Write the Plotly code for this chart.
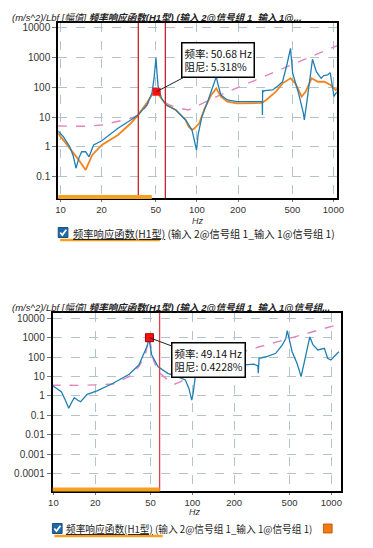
import math
import plotly.graph_objects as go

W, H = 373, 548

# ---------------- data: top chart ----------------
top_blue_f = [9.6, 10.5, 11.7, 12.4, 13.0, 13.6, 14.3, 15.3, 16.2, 17.5, 20.1, 23, 26.4, 32.8, 37, 43,
              46.8, 48.5, 49.5, 50.1, 51, 52, 55, 59.8, 70, 82.6, 92, 96, 99.3, 102, 108.5, 121, 131,
              138.6, 143, 150, 167, 197, 259, 301, 302, 303, 305, 313, 359, 390, 424, 459, 485, 503,
              556, 603, 612, 637, 673, 703, 750, 813, 850, 906, 948, 985, 1010, 1040, 1067]
top_blue_v = [3.4, 2.2, 1.0, 0.5, 0.19, 0.4, 0.68, 0.68, 0.46, 1.15, 1.6, 2.6, 4.2, 8, 11.7, 25.5,
              63, 200, 450, 1000, 300, 105, 43, 25.5, 17.4, 8, 3.7, 1.6, 0.78, 2.5, 10, 37.7, 120,
              229, 120, 55, 37.7, 33, 33, 33, 11.7, 82, 70, 78, 82, 110, 155, 650, 2075, 299,
              63, 13.4, 8, 29, 178, 884, 340, 202, 250, 262, 313, 82, 50, 63, 70]

top_orange_f = [9.6, 11.7, 13.4, 15.3, 17.1, 20.1, 26.4, 32.8, 37, 43, 48, 50.6, 53.5, 59.8, 70,
                82.6, 87, 92, 96, 104, 114, 127, 138.6, 150, 167, 197, 300, 322, 379, 424, 485,
                526, 586, 627, 692, 771, 859, 955, 1040, 1067]
top_orange_v = [2.85, 0.9, 0.4, 0.166, 0.53, 1.15, 2.5, 6.2, 11.7, 30.5, 66, 82, 49, 25.5, 17.4,
                8, 4.75, 3.7, 4.2, 6.2, 19.8, 55, 93, 49, 33, 29, 30, 37.7, 72, 137, 202,
                137, 49, 72, 202, 155, 155, 120, 82, 90]

top_fit_f = [9.6, 12, 15.3, 20.1, 26.4, 32.8, 37, 40, 43, 46.8, 49, 50.68, 52, 55, 58, 63, 74.3,
             87, 104, 121, 150, 197, 260, 340, 450, 586, 750, 955, 1067]
top_fit_v = [5.0, 4.9, 4.9, 5.4, 7, 9.1, 11.7, 16, 25, 50, 68, 72, 62, 43, 32, 25.5, 19.8,
             17.4, 26, 37.5, 57, 96, 166, 278, 479, 800, 1291, 2065, 2560]

top_marker_f = [50.68]
top_marker_v = [72]
top_cursor_f = [37.2, 58.7]
top_band_end = 46.7
top_label = "频率: 50.68 Hz<br>阻尼: 5.318%"

# ---------------- data: bottom chart ----------------
bot_blue_f = [9.7, 11.4, 12.2, 12.9, 13.6, 14.15, 15.0, 15.7, 17.5, 20.6, 26.9, 35.1, 41.2, 45.8,
              47.5, 48.6, 49.5, 51, 56.7, 66.6, 78, 89, 94.3, 97, 99, 101, 105, 117, 130, 160, 200,
              240, 276, 293, 296, 298, 302, 340, 398, 444, 470, 482, 494, 522, 566, 606, 640, 676,
              700, 739, 800, 891, 940, 993, 1074, 1132]
bot_blue_v = [3.65, 1.64, 0.6, 0.23, 0.5, 0.8, 0.6, 0.5, 1.2, 1.8, 4.5, 13, 39, 190,
              400, 1000, 400, 129, 32, 14.6, 9.8, 6.6, 2.5, 1.1, 0.6, 1.2, 9.8, 32, 39, 38, 38,
              40, 43, 35, 36, 14.6, 87, 104, 157, 420, 900, 2300, 930, 190, 48, 9.8, 58, 420,
              1100, 420, 232, 284, 87, 71, 129, 190]

bot_fit_f = [9.7, 12, 15, 20, 23, 26.9, 30, 35.1, 41.2, 45.8, 47.5, 49.14, 50.5, 52.5, 56.7,
             66.6, 74.3, 82.5, 97, 120, 150, 210, 300, 470, 700, 1132]
bot_fit_v = [3.6, 3.5, 3.5, 3.7, 3.9, 4.1, 6, 9.8, 32, 129, 420, 1000, 300, 71, 17.7,
             6.6, 4, 5.4, 14.6, 35, 75, 157, 330, 813, 1900, 4900]

bot_marker_f = [49.14]
bot_marker_v = [1000]
bot_cursor_f = [58.1]
bot_band_end = 58.1
bot_label = "频率: 49.14 Hz<br>阻尼: 0.4228%"

x_ticks = [10, 20, 50, 100, 200, 500, 1000]
top_y_ticks = [10000, 1000, 100, 10, 1, 0.1]
bot_y_ticks = [10000, 1000, 100, 10, 1, 0.1, 0.01, 0.001, 0.0001]

title_unit = "(m/s^2)/Lbf [幅值] "
title_main_top = "频率响应函数(H1型) (输入 2@信号组 1_输入 1@..."
title_main_bot = "频率响应函数(H1型) (输入 2@信号组 1_输入 1@信号组..."
legend_head = "频率响应函数(H1型)"
legend_tail = " (输入 2@信号组 1_输入 1@信号组 1)"

# ---------------- style ----------------
BLUE = "#1f7fb2"
ORANGE = "#f4841e"
PINK = "#e283c2"
RED = "#ff1010"
CURSOR = "#c4262e"
BAND = "#f5a020"
GRID = "#b3c3cc"
FONT = "Liberation Sans, Noto Sans CJK SC, sans-serif"
CJK = "Noto Sans CJK SC, Liberation Sans, sans-serif"


def px(x):
    return x / W


def py(y):
    return 1 - y / H


fig = go.Figure()

# top traces
fig.add_trace(go.Scatter(x=top_fit_f, y=top_fit_v, mode="lines", line=dict(color=PINK, width=1.4, dash="dash"),
                         xaxis="x", yaxis="y", hoverinfo="skip"))
fig.add_trace(go.Scatter(x=top_orange_f, y=top_orange_v, mode="lines", line=dict(color=ORANGE, width=1.8),
                         xaxis="x", yaxis="y"))
fig.add_trace(go.Scatter(x=top_blue_f, y=top_blue_v, mode="lines", line=dict(color=BLUE, width=1.3),
                         xaxis="x", yaxis="y"))
fig.add_trace(go.Scatter(x=top_marker_f, y=top_marker_v, mode="markers",
                         marker=dict(symbol="square", size=8, color=RED), xaxis="x", yaxis="y"))

# bottom traces
fig.add_trace(go.Scatter(x=bot_fit_f, y=bot_fit_v, mode="lines", line=dict(color=PINK, width=1.4, dash="dash"),
                         xaxis="x2", yaxis="y2"))
fig.add_trace(go.Scatter(x=bot_blue_f, y=bot_blue_v, mode="lines", line=dict(color=BLUE, width=1.3),
                         xaxis="x2", yaxis="y2"))
fig.add_trace(go.Scatter(x=bot_marker_f, y=bot_marker_v, mode="markers",
                         marker=dict(symbol="square", size=8, color=RED, line=dict(color="#a00000", width=1)),
                         xaxis="x2", yaxis="y2"))


def xaxis(domain, rng, anchor):
    return dict(type="log", domain=domain, range=rng, tickvals=x_ticks, ticktext=[str(t) for t in x_ticks],
                showgrid=True, gridcolor=GRID, griddash="dash", gridwidth=1,
                showline=True, linecolor="black", linewidth=2, mirror=True, anchor=anchor,
                ticks="outside", ticklen=2, tickcolor="#777", zeroline=False,
                tickfont=dict(family=FONT, size=9.5, color="#333"))


def yaxis(domain, rng, ticks, anchor):
    return dict(type="log", domain=domain, range=rng, tickvals=ticks,
                ticktext=[("%g" % t) if t >= 1 else ("%.4f" % t).rstrip("0") for t in ticks],
                showgrid=True, gridcolor=GRID, griddash="dash", gridwidth=1,
                showline=True, linecolor="black", linewidth=2, mirror=True,
                ticks="outside", ticklen=4, tickcolor="#777", zeroline=False, anchor=anchor,
                tickfont=dict(family=FONT, size=10, color="#333"))


shapes = []
# cursors
for f in top_cursor_f:
    shapes.append(dict(type="line", xref="x", yref="y domain", x0=f, x1=f, y0=0, y1=1,
                       line=dict(color=CURSOR, width=1.3)))
for f in bot_cursor_f:
    shapes.append(dict(type="line", xref="x2", yref="y2 domain", x0=f, x1=f, y0=0, y1=1,
                       line=dict(color="#e0404e", width=1.3)))
# orange band at plot bottom
shapes.append(dict(type="rect", xref="paper", yref="paper", x0=px(55), y0=py(199), y1=py(195),
                   x1=px(57.3 + 141 * (math.log10(top_band_end) - 1)), line=dict(width=0), fillcolor=BAND))
shapes.append(dict(type="rect", xref="paper", yref="paper", x0=px(49.3), y0=py(491.5), y1=py(487.5),
                   x1=px(50 + 143.6 * (math.log10(bot_band_end) - 1)), line=dict(width=0), fillcolor=BAND))

# legend checkboxes and underlines
for (cx, cy, ux1) in [(55, 227.5, 160), (49, 523.5, 163)]:
    shapes.append(dict(type="rect", xref="paper", yref="paper", x0=px(cx), x1=px(cx + 10), y0=py(cy + 10), y1=py(cy),
                       fillcolor="#1d6aa8", line=dict(color="#1d4f80", width=1)))
    shapes.append(dict(type="path", xref="paper", yref="paper",
                       path="M %f %f L %f %f L %f %f" % (px(cx + 2), py(cy + 5), px(cx + 4.2), py(cy + 7.5), px(cx + 8.3), py(cy + 2.3)),
                       line=dict(color="white", width=1.8)))
    shapes.append(dict(type="line", xref="paper", yref="paper", x0=px(cx + 2), x1=px(ux1), y0=py(cy + 12.5), y1=py(cy + 12.5),
                       line=dict(color=BAND, width=2.5)))
# orange legend square bottom
shapes.append(dict(type="rect", xref="paper", yref="paper", x0=px(329), x1=px(338), y0=py(533), y1=py(524),
                   fillcolor="#f37a0c", line=dict(color="#b05000", width=0.8)))

annotations = []
# titles
for (ty, tmain) in [(17, title_main_top), (307.5, title_main_bot)]:
    annotations.append(dict(xref="paper", yref="paper", x=px(5), y=py(ty), xanchor="left", yanchor="middle",
                            showarrow=False,
                            text="<i>" + title_unit + "</i><b><i>" + tmain + "</i></b>",
                            font=dict(family=FONT, size=9.5, color="#222")))
# Hz labels
for (hx, hy) in [(199, 220.5), (196, 518.5)]:
    annotations.append(dict(xref="paper", yref="paper", x=px(hx), y=py(hy), showarrow=False, text="<i>Hz</i>",
                            font=dict(family=FONT, size=9, color="#333")))
# legends
for (lx, ly, fs) in [(68, 233, 10.3), (61, 529, 9.7)]:
    annotations.append(dict(xref="paper", yref="paper", x=px(lx), y=py(ly), xanchor="left", yanchor="middle",
                            showarrow=False, text="<u>" + legend_head + "</u>" + legend_tail,
                            font=dict(family=CJK, size=fs, color="#222")))
# marker labels
annotations.append(dict(xref="x", yref="y", x=math.log10(top_marker_f[0]), y=math.log10(top_marker_v[0]),
                        ax=61, ay=-32, showarrow=True, arrowhead=0, arrowwidth=1, arrowcolor="#222",
                        text=top_label, align="left", bgcolor="white", bordercolor="black", borderwidth=1.5,
                        borderpad=2, font=dict(family=CJK, size=10.5, color="#111")))
annotations.append(dict(xref="x2", yref="y2", x=math.log10(bot_marker_f[0]), y=math.log10(bot_marker_v[0]),
                        ax=59, ay=22, showarrow=True, arrowhead=0, arrowwidth=1, arrowcolor="#222",
                        text=bot_label, align="left", bgcolor="white", bordercolor="black", borderwidth=1.5,
                        borderpad=2, font=dict(family=CJK, size=10.5, color="#111")))

fig.update_layout(
    width=W, height=H, margin=dict(l=0, r=0, t=0, b=0),
    paper_bgcolor="white", plot_bgcolor="white", showlegend=False,
    xaxis=xaxis([px(55), px(343)], [0.9837, 3.0262], "y"),
    yaxis=yaxis([py(198), py(22.7)], [-1.724, 4.178], top_y_ticks, "x"),
    xaxis2=xaxis([px(49.3), px(346.7)], [0.9951, 3.0662], "y2"),
    yaxis2=yaxis([py(490.7), py(313)], [-4.887, 4.273], bot_y_ticks, "x2"),
    shapes=shapes, annotations=annotations,
)

fig.write_html("out.html", config={"displayModeBar": False},
               post_script="document.body.style.margin='0px';")
